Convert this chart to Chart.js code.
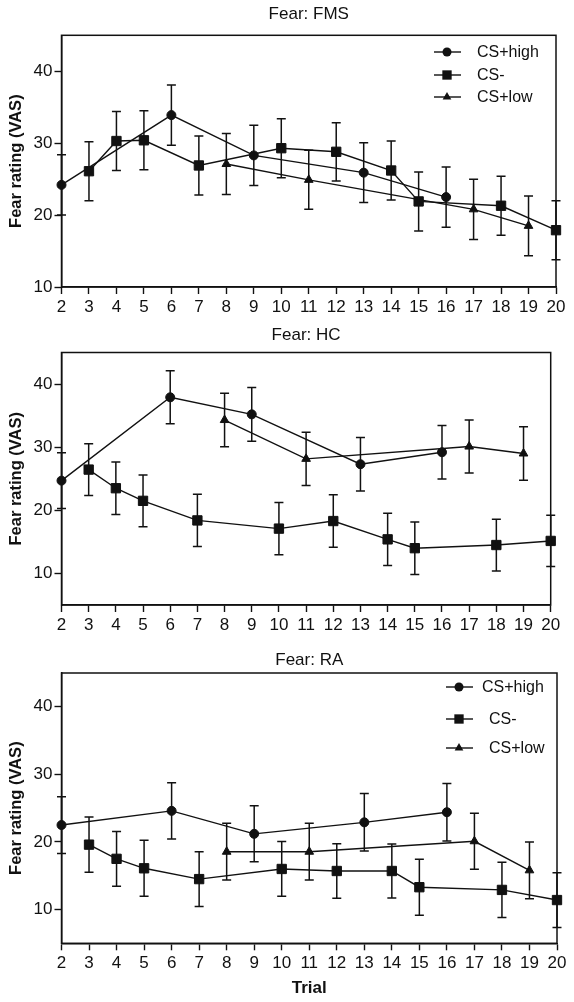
<!DOCTYPE html>
<html>
<head>
<meta charset="utf-8">
<style>
  html, body { margin: 0; padding: 0; background: #fff; }
  body { position: relative; width: 574px; height: 1002px; overflow: hidden; }
  canvas { position: absolute; left: 0; }
</style>
</head>
<body>
<canvas id="fms" width="574" height="322" style="top:0px"></canvas>
<canvas id="hc" width="574" height="316" style="top:322px"></canvas>
<canvas id="ra" width="574" height="364" style="top:638px"></canvas>
<script src="https://cdn.jsdelivr.net/npm/chart.js@4.4.1/dist/chart.umd.min.js"></script>
<script>
// trial numbers shown on the x axis, and which trials belong to each stimulus
const TRIAL_TICKS = [2, 3, 4, 5, 6, 7, 8, 9, 10, 11, 12, 13, 14, 15, 16, 17, 18, 19, 20];
const Y_TICKS = [10, 20, 30, 40];
const SERIES_LABELS = ['CS+high', 'CS-', 'CS+low'];
const HIGH_TRIALS = [2, 6, 9, 13, 16];
const MINUS_TRIALS = [3, 4, 5, 7, 10, 12, 14, 15, 18, 20];
const LOW_TRIALS = [8, 11, 17, 19];

// Fear: FMS
const FMS_HIGH = [24.2, 33.9, 28.3, 25.9, 22.5];
const FMS_HIGH_ERR = [4.2, 4.2, 4.2, 4.15, 4.2];
const FMS_MINUS = [26.1, 30.3, 30.4, 26.9, 29.3, 28.8, 26.2, 21.9, 21.3, 17.9];
const FMS_MINUS_ERR = [4.1, 4.1, 4.1, 4.1, 4.1, 4.05, 4.1, 4.1, 4.1, 4.1];
const FMS_LOW = [27.1, 24.9, 20.8, 18.5];
const FMS_LOW_ERR = [4.25, 4.1, 4.2, 4.15];

// Fear: HC
const HC_HIGH = [24.7, 37.9, 35.2, 27.3, 29.2];
const HC_HIGH_ERR = [4.4, 4.2, 4.25, 4.25, 4.25];
const HC_MINUS = [26.45, 23.5, 21.5, 18.4, 17.1, 18.3, 15.4, 14.0, 14.5, 15.15];
const HC_MINUS_ERR = [4.1, 4.15, 4.1, 4.15, 4.15, 4.15, 4.15, 4.15, 4.1, 4.05];
const HC_LOW = [34.3, 28.15, 30.1, 29.0];
const HC_LOW_ERR = [4.25, 4.2, 4.2, 4.25];

// Fear: RA
const RA_HIGH = [22.5, 24.6, 21.2, 22.9, 24.4];
const RA_HIGH_ERR = [4.2, 4.15, 4.15, 4.25, 4.25];
const RA_MINUS = [19.6, 17.5, 16.1, 14.5, 16.0, 15.7, 15.7, 13.3, 12.9, 11.4];
const RA_MINUS_ERR = [4.1, 4.05, 4.15, 4.05, 4.05, 4.05, 4.0, 4.15, 4.1, 4.05];
const RA_LOW = [18.55, 18.55, 20.1, 15.8];
const RA_LOW_ERR = [4.2, 4.2, 4.15, 4.2];

const FONT = "'Liberation Sans', Arial, Helvetica, sans-serif";
const INK = '#111';

function points(trials, means) {
  return trials.map((t, i) => ({ x: t, y: means[i] }));
}

function drawMarker(ctx, style, r, x, y) {
  ctx.beginPath();
  if (style === 'circle') {
    ctx.arc(x, y, r, 0, Math.PI * 2);
  } else if (style === 'rect') {
    const s = r * Math.SQRT1_2;
    ctx.rect(x - s, y - s, 2 * s, 2 * s);
  } else {
    let rad = 0;
    ctx.moveTo(x + Math.sin(rad) * r, y - Math.cos(rad) * r);
    rad += Math.PI * 2 / 3;
    ctx.lineTo(x + Math.sin(rad) * r, y - Math.cos(rad) * r);
    rad += Math.PI * 2 / 3;
    ctx.lineTo(x + Math.sin(rad) * r, y - Math.cos(rad) * r);
    ctx.closePath();
  }
  ctx.fill();
}

const errorBars = {
  id: 'errorBars',
  afterDatasetsDraw(chart) {
    const { ctx, scales: { x, y } } = chart;
    ctx.save();
    ctx.strokeStyle = INK;
    ctx.lineWidth = 1.5;
    chart.data.datasets.forEach((ds) => {
      ds.data.forEach((p, i) => {
        const px = x.getPixelForValue(p.x);
        const top = y.getPixelForValue(p.y + ds.errors[i]);
        const bot = y.getPixelForValue(p.y - ds.errors[i]);
        ctx.beginPath();
        ctx.moveTo(px, top); ctx.lineTo(px, bot);
        ctx.moveTo(px - 4.5, top); ctx.lineTo(px + 4.5, top);
        ctx.moveTo(px - 4.5, bot); ctx.lineTo(px + 4.5, bot);
        ctx.stroke();
      });
    });
    ctx.restore();
  }
};

const frame = {
  id: 'frame',
  beforeDatasetsDraw(chart) {
    const { ctx, chartArea: a } = chart;
    ctx.save();
    ctx.strokeStyle = INK;
    ctx.lineWidth = 1.5;
    ctx.strokeRect(a.left, a.top, a.right - a.left, a.bottom - a.top);
    ctx.restore();
  }
};

const insideLegend = {
  id: 'insideLegend',
  afterDraw(chart, args, opts) {
    if (!opts || !opts.rows) return;
    const { ctx } = chart;
    ctx.save();
    ctx.fillStyle = INK;
    ctx.strokeStyle = INK;
    ctx.lineWidth = 1.4;
    ctx.font = '16px ' + FONT;
    ctx.textBaseline = 'middle';
    chart.data.datasets.forEach((ds, i) => {
      const y = opts.rows[i];
      ctx.beginPath();
      ctx.moveTo(opts.x - 13, y);
      ctx.lineTo(opts.x + 14, y);
      ctx.stroke();
      drawMarker(ctx, ds.pointStyle, ds.pointRadius, opts.x, y);
      ctx.fillText(ds.label, opts.textX[i], y + 1);
    });
    ctx.restore();
  }
};

function dataset(label, trials, means, errs, style, radius) {
  return {
    label: label,
    data: points(trials, means),
    errors: errs,
    borderColor: INK,
    borderWidth: 1.4,
    backgroundColor: INK,
    pointStyle: style,
    pointRadius: radius,
    pointBackgroundColor: INK,
    pointBorderColor: INK,
    pointBorderWidth: 1,
    tension: 0,
    clip: false
  };
}

function makeChart(id, cfg) {
  return new Chart(document.getElementById(id), {
    type: 'line',
    data: {
      datasets: [
        dataset(SERIES_LABELS[0], HIGH_TRIALS, cfg.high, cfg.highErr, 'circle', 4.5),
        dataset(SERIES_LABELS[1], MINUS_TRIALS, cfg.minus, cfg.minusErr, 'rect', 6.6),
        dataset(SERIES_LABELS[2], LOW_TRIALS, cfg.low, cfg.lowErr, 'triangle', 5)
      ]
    },
    options: {
      responsive: false,
      animation: false,
      layout: { padding: { left: 0, right: cfg.padRight, top: 0, bottom: 0 } },
      plugins: {
        legend: { display: false },
        tooltip: { enabled: false },
        title: {
          display: true,
          text: cfg.title,
          fullSize: false,
          color: INK,
          font: { family: FONT, size: 17, weight: 'normal', lineHeight: 1.2 },
          padding: cfg.titlePad
        },
        insideLegend: cfg.legend || {}
      },
      scales: {
        x: {
          type: 'linear',
          min: 2,
          max: 20,
          afterBuildTicks: (s) => { s.ticks = TRIAL_TICKS.map((v) => ({ value: v })); },
          afterFit: (s) => { s.height = cfg.xHeight; },
          grid: { display: true, drawOnChartArea: false, drawTicks: true, tickLength: 7, tickColor: INK, tickWidth: 1.4 },
          border: { display: true, color: INK, width: 1.5 },
          ticks: { color: INK, font: { family: FONT, size: 17 }, padding: 3, maxRotation: 0, autoSkip: false },
          title: {
            display: !!cfg.xTitle,
            text: cfg.xTitle || '',
            color: INK,
            font: { family: FONT, size: 17, weight: 'bold', lineHeight: 1.2 },
            padding: { top: 0, bottom: 3.8 }
          }
        },
        y: {
          type: 'linear',
          min: cfg.yMin,
          max: 45,
          afterBuildTicks: (s) => { s.ticks = Y_TICKS.map((v) => ({ value: v })); },
          afterFit: (s) => { s.width = 61.5; },
          grid: { display: true, drawOnChartArea: false, drawTicks: true, tickLength: 7, tickColor: INK, tickWidth: 1.4 },
          border: { display: true, color: INK, width: 1.5 },
          ticks: { color: INK, font: { family: FONT, size: 17 }, padding: 2 },
          title: {
            display: true,
            text: 'Fear rating (VAS)',
            color: INK,
            font: { family: FONT, size: 16.5, weight: 'bold', lineHeight: 1.2 },
            padding: { top: 6.6, bottom: 0 }
          }
        }
      }
    },
    plugins: [frame, errorBars, insideLegend]
  });
}

makeChart('fms', {
  title: 'Fear: FMS',
  titlePad: { top: 4, bottom: 10.9 },
  padRight: 18,
  xHeight: 35,
  yMin: 10,
  high: FMS_HIGH, highErr: FMS_HIGH_ERR,
  minus: FMS_MINUS, minusErr: FMS_MINUS_ERR,
  low: FMS_LOW, lowErr: FMS_LOW_ERR,
  legend: { x: 447, textX: [477, 477, 477], rows: [52, 75, 97] }
});

makeChart('hc', {
  title: 'Fear: HC',
  titlePad: { top: 3.2, bottom: 6.9 },
  padRight: 23.3,
  xHeight: 33,
  yMin: 5,
  high: HC_HIGH, highErr: HC_HIGH_ERR,
  minus: HC_MINUS, minusErr: HC_MINUS_ERR,
  low: HC_LOW, lowErr: HC_LOW_ERR
});

makeChart('ra', {
  title: 'Fear: RA',
  titlePad: { top: 12.1, bottom: 2.5 },
  padRight: 17,
  xHeight: 58.7,
  yMin: 5,
  xTitle: 'Trial',
  high: RA_HIGH, highErr: RA_HIGH_ERR,
  minus: RA_MINUS, minusErr: RA_MINUS_ERR,
  low: RA_LOW, lowErr: RA_LOW_ERR,
  legend: { x: 459, textX: [482, 489, 489], rows: [49, 81, 110] }
});
</script>
</body>
</html>
